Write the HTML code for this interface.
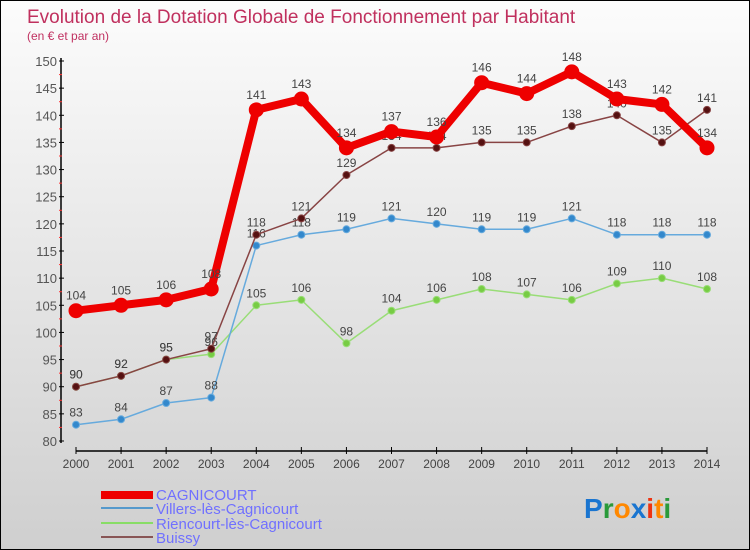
<!DOCTYPE html>
<html><head><meta charset="utf-8"><style>
body{margin:0}
#c{width:750px;height:550px;position:relative;box-sizing:border-box;border:1px solid #000;background:linear-gradient(#fcfcfc,#cfcfcf);font-family:"Liberation Sans",sans-serif;overflow:hidden}
</style></head><body>
<div id="c">
<svg id="s" width="750" height="550" style="position:absolute;left:0;top:0">
<text x="26" y="22" font-size="19" fill="#c0305e">Evolution de la Dotation Globale de Fonctionnement par Habitant</text>
<text x="26" y="39" font-size="12" fill="#c03060">(en € et par an)</text>
<g id="axes"></g><g id="series"></g>
<g font-size="15" fill="#7070ff">
<rect x="100" y="490" width="52" height="8" fill="#ee0000"/>
<text x="155" y="499">CAGNICOURT</text>
<rect x="100" y="506" width="52" height="2" fill="#5599cc"/>
<text x="155" y="513">Villers-lès-Cagnicourt</text>
<rect x="100" y="521" width="52" height="2" fill="#88dd66"/>
<text x="155" y="528">Riencourt-lès-Cagnicourt</text>
<rect x="100" y="535" width="52" height="2" fill="#885555"/>
<text x="155" y="542">Buissy</text>
</g>
<text x="583" y="517" font-size="28" font-weight="bold"><tspan fill="#1a75d0">P</tspan><tspan fill="#2a9a3a">r</tspan><tspan fill="#ff8800">o</tspan><tspan fill="#1a75d0">x</tspan><tspan fill="#ee3311">i</tspan><tspan fill="#ff8800">t</tspan><tspan fill="#2a9a3a">i</tspan></text>
</svg>
</div>
<script>
const years=[2000,2001,2002,2003,2004,2005,2006,2007,2008,2009,2010,2011,2012,2013,2014];
const cagnicourt=[104,105,106,108,141,143,134,137,136,146,144,148,143,142,134];
const villers=[83,84,87,88,116,118,119,121,120,119,119,121,118,118,118];
const riencourt=[90,92,95,96,105,106,98,104,106,108,107,106,109,110,108];
const buissy=[90,92,95,97,118,121,129,134,134,135,135,138,140,135,141];
const yTicks=[80,85,90,95,100,105,110,115,120,125,130,135,140,145,150];
const NS="http://www.w3.org/2000/svg";
const xs=i=>75+i*(706-75)/14;
const ys=v=>440-(v-80)*380/70;
function mk(t,a,p){const e=document.createElementNS(NS,t);for(const k in a)e.setAttribute(k,a[k]);p.appendChild(e);return e;}
const ax=document.getElementById('axes');
let l=mk('line',{x1:60,y1:57,x2:60,y2:442,stroke:'#000','stroke-width':1.5},ax);


l=mk('line',{x1:75,y1:450,x2:706,y2:450,stroke:'#000','stroke-width':1.5},ax);


yTicks.forEach(v=>{
 mk('line',{x1:58,x2:63,y1:ys(v),y2:ys(v),stroke:'#000'},ax);
 if(v<150) mk('line',{x1:58,x2:61,y1:ys(v+2.5),y2:ys(v+2.5),stroke:'#ff3333'},ax);
 const t=mk('text',{x:56,y:ys(v)+5,'text-anchor':'end','font-size':13,fill:'#555'},ax);
 t.textContent=v;
 
 
});
years.forEach((y,i)=>{
 mk('line',{x1:xs(i),x2:xs(i),y1:446,y2:453,stroke:'#000'},ax);
 const t=mk('text',{x:xs(i),y:467,'text-anchor':'middle','font-size':12,fill:'#444'},ax);
 t.textContent=y;
 
 
});
const sg=document.getElementById('series');
function series(name,data,color,w,r,dot,lab){
 const g=mk('g',{},sg);
 
 
 mk('polyline',{points:data.map((v,i)=>xs(i)+','+ys(v)).join(' '),fill:'none',stroke:color,'stroke-width':w,'stroke-linejoin':'round'},g);
 data.forEach((v,i)=>{
  const c=mk('circle',{cx:xs(i),cy:ys(v),r:r,fill:dot,stroke:color,'stroke-width':1},g);
  
  
  const t=mk('text',{x:xs(i),y:ys(v)-8-(r>5?3:0),'text-anchor':'middle','font-size':12,fill:lab},g);
  t.textContent=v;
  
  
 });
}
series('riencourt',riencourt,'#99dd77',1.5,3.5,'#77cc44','#444');
series('villers',villers,'#66aadd',1.5,3.5,'#3388cc','#444');
series('buissy',buissy,'#884444',1.5,3.5,'#551111','#444');
series('cagnicourt',cagnicourt,'#ee0000',8,7,'#ee0000','#444');
</script>
</body></html>
